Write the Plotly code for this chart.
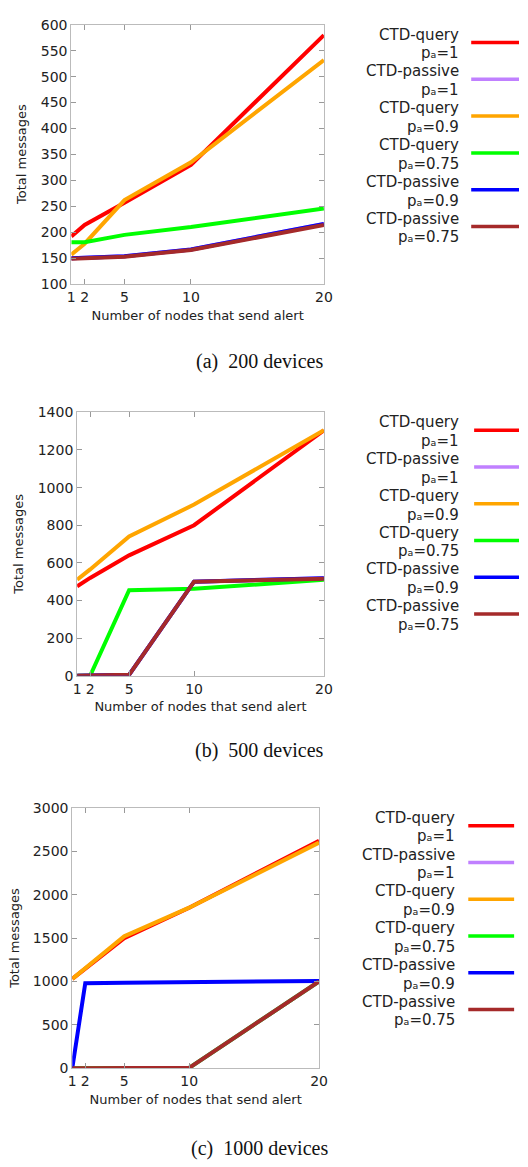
import plotly.graph_objects as go

W, H = 528, 1167

nodes = [1, 2, 5, 10, 20]
series_methods = ["CTD-query", "CTD-passive", "CTD-query", "CTD-query", "CTD-passive", "CTD-passive"]
series_pa = ["1", "1", "0.9", "0.75", "0.9", "0.75"]
series_colors = ["#ff0000", "#c080ff", "#ffa500", "#00ff00", "#0000ff", "#a52a2a"]

# 200 devices
d200_query_1 = [192, 214, 257, 330, 580]
d200_passive_1 = [150, 151, 154, 167, 216]
d200_query_09 = [157, 178, 262, 335, 532]
d200_query_075 = [181, 181, 195, 210, 246]
d200_passive_09 = [150, 151, 154, 167, 216]
d200_passive_075 = [149, 150, 153, 166, 214]

# 500 devices
d500_query_1 = [475, 520, 640, 800, 1305]
d500_passive_1 = [0, 0, 5, 500, 518]
d500_query_09 = [510, 565, 740, 910, 1305]
d500_query_075 = [0, 0, 455, 462, 510]
d500_passive_09 = [0, 0, 5, 500, 518]
d500_passive_075 = [0, 0, 5, 500, 515]

# 1000 devices
d1000_query_1 = [1030, 1150, 1500, 1850, 2620]
d1000_passive_1 = [0, 0, 0, 5, 1000]
d1000_query_09 = [1030, 1155, 1520, 1850, 2600]
d1000_query_075 = [0, 0, 0, 5, 1000]
d1000_passive_09 = [0, 980, 985, 990, 1005]
d1000_passive_075 = [0, 0, 0, 5, 1000]

panels = [
    dict(data=[d200_query_1, d200_passive_1, d200_query_09, d200_query_075, d200_passive_09, d200_passive_075],
         yrange=[100, 600], dtick=50, caption="(a)  200 devices"),
    dict(data=[d500_query_1, d500_passive_1, d500_query_09, d500_query_075, d500_passive_09, d500_passive_075],
         yrange=[0, 1400], dtick=200, caption="(b)  500 devices"),
    dict(data=[d1000_query_1, d1000_passive_1, d1000_query_09, d1000_query_075, d1000_passive_09, d1000_passive_075],
         yrange=[0, 3000], dtick=500, caption="(c)  1000 devices"),
]

# layout geometry in pixels
boxes = [(69, 328, 17, 280), (75, 328, 410, 677), (70, 323, 811, 1075)]
legend_geom = [(467, 479, 528, 35), (468, 482, 528, 428), (463, 476, 523, 829)]
caption_y = [358, 753, 1156]
ytitle_x = [18, 14, 10]

def px(x):
    return x / W

def py(y):
    return 1 - y / H

fig = go.Figure()
layout = dict(width=W, height=H, margin=dict(l=0, r=0, t=0, b=0),
              paper_bgcolor="white", plot_bgcolor="white", showlegend=False,
              font=dict(family="DejaVu Sans", color="#222222"))
annotations = []
shapes = []

for i, p in enumerate(panels):
    k = "" if i == 0 else str(i + 1)
    for j, vals in enumerate(p["data"]):
        fig.add_trace(go.Scatter(x=nodes, y=vals, mode="lines",
                                 name=f"{series_methods[j]} pa={series_pa[j]}",
                                 line=dict(color=series_colors[j], width=4),
                                 xaxis="x" + k, yaxis="y" + k))
    x0, x1, y0, y1 = boxes[i]
    axcommon = dict(showline=True, linecolor="#bbbbbb", linewidth=1, mirror="ticks",
                    ticks="inside", ticklen=5, tickcolor="#999999", showgrid=False,
                    zeroline=False, tickfont=dict(size=14, color="#222222"))
    layout["xaxis" + k] = dict(domain=[px(x0), px(x1)], range=[1, 20], tickvals=nodes,
                               anchor="y" + k,
                               title=dict(text="Number of nodes that send alert",
                                          font=dict(size=13), standoff=6),
                               **axcommon)
    layout["yaxis" + k] = dict(domain=[py(y1), py(y0)], range=p["yrange"], dtick=p["dtick"],
                               anchor="x" + k, **axcommon)
    annotations.append(dict(text="Total messages", textangle=-90, x=px(ytitle_x[i]),
                            y=py((y0 + y1) / 2), xref="paper", yref="paper",
                            xanchor="center", yanchor="middle",
                            showarrow=False, font=dict(size=13)))
    annotations.append(dict(text=p["caption"], x=px(262), y=py(caption_y[i]), xref="paper",
                            yref="paper", showarrow=False, xanchor="center", yanchor="middle",
                            font=dict(family="Liberation Serif", size=20, color="#111111")))
    tx, lx0, lx1, ly = legend_geom[i]
    for j in range(len(series_methods)):
        yy = ly + j * 37.3
        annotations.append(dict(text=series_methods[j], x=px(tx), y=py(yy - 8), xref="paper",
                                yref="paper", xanchor="right", yanchor="middle", borderpad=0,
                                showarrow=False, font=dict(size=15, color="#222222")))
        annotations.append(dict(text=f"p\u2090={series_pa[j]}", x=px(tx), y=py(yy + 11),
                                xref="paper", yref="paper", xanchor="right", yanchor="middle",
                                borderpad=0,
                                showarrow=False, font=dict(size=15, color="#222222")))
        shapes.append(dict(type="line", xref="paper", yref="paper", x0=px(lx0), x1=px(lx1),
                           y0=py(yy), y1=py(yy), line=dict(color=series_colors[j], width=3.5)))

layout["annotations"] = annotations
layout["shapes"] = shapes
fig.update_layout(**layout)
fig.write_html("out.html")
